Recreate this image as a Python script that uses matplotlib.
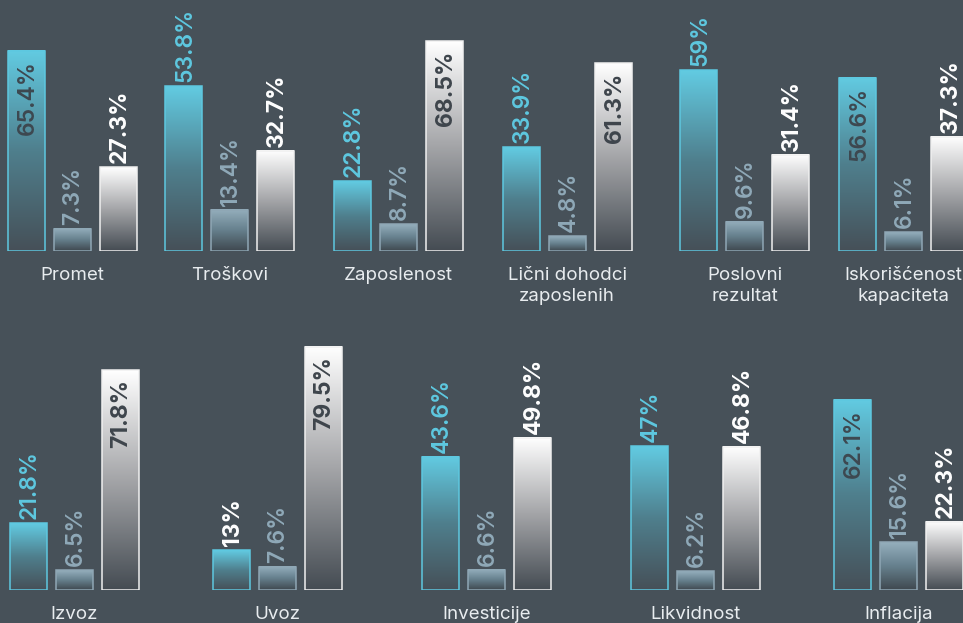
import numpy as np
import matplotlib.pyplot as plt
from matplotlib.colors import LinearSegmentedColormap

plt.rcParams['font.family'] = ['Inter', 'DejaVu Sans']

# --- podaci ---
top_categories = ['Promet', 'Troškovi', 'Zaposlenost', 'Lični dohodci\nzaposlenih',
                  'Poslovni\nrezultat', 'Iskorišćenost\nkapaciteta']
top_cyan = [65.4, 53.8, 22.8, 33.9, 59, 56.6]
top_gray = [7.3, 13.4, 8.7, 4.8, 9.6, 6.1]
top_white = [27.3, 32.7, 68.5, 61.3, 31.4, 37.3]

bottom_categories = ['Izvoz', 'Uvoz', 'Investicije', 'Likvidnost', 'Inflacija']
bottom_cyan = [21.8, 13, 43.6, 47, 62.1]
bottom_gray = [6.5, 7.6, 6.6, 6.2, 15.6]
bottom_white = [71.8, 79.5, 49.8, 46.8, 22.3]

# --- izgled ---
W, H = 963, 623
BG = '#475159'
BAR_W = 37
STEP = 46
YMAX = 82
# centri grupa u pikselima (original nije ravnomerno rasporedjen)
top_centers = [72, 229.5, 398.5, 567, 744.5, 903.5]
bottom_centers = [74, 277, 486.5, 695.5, 898.5]

styles = [
    dict(colors=['#465058', '#4f7f8d', '#62cbe2'], edge='#5ec8e0', label='#5ec8e0',
         inside='#3d4850', weight='semibold'),
    dict(colors=['#3f484f', '#66808d', '#95afbd'], edge='#8fa7b5', label='#8fa9b8',
         inside='#3d4850', weight='semibold'),
    dict(colors=['#454c53', '#a4a5a8', '#ffffff'], edge='#f0f0f0', label='#ffffff',
         inside='#3e454c', weight='bold'),
]
white_labels = {('Uvoz', 0)}   # u originalu je ova oznaka bela

fig = plt.figure(figsize=(W / 100, H / 100), dpi=100, facecolor=BG)
renderer = fig.canvas.get_renderer()
grad = np.linspace(1, 0, 256)[:, None]


def draw_row(base_px, categories, series, centers):
    ax = fig.add_axes([0, (H - base_px) / H, 1, YMAX * 3.06 / H])
    ax.set_xlim(0, W)
    ax.set_ylim(0, YMAX)
    ax.axis('off')
    ax.patch.set_alpha(0)
    ax_top = ax.get_window_extent(renderer).y1

    for i, (cat, c) in enumerate(zip(categories, centers)):
        for j, vals in enumerate(series):
            v = vals[i]
            st = styles[j]
            xc = c + (j - 1) * STEP
            cmap = LinearSegmentedColormap.from_list('g', st['colors'])
            ax.imshow(grad, cmap=cmap, aspect='auto', interpolation='bilinear',
                      extent=(xc - BAR_W / 2, xc + BAR_W / 2, 0, v), zorder=1)
            ax.bar(xc, v, width=BAR_W, facecolor='none', edgecolor=st['edge'],
                   linewidth=1.1, zorder=2)

            color = st['label']
            weight = st['weight']
            if (cat, j) in white_labels:
                color, weight = '#ffffff', 'bold'
            t = ax.annotate(f'{v:g}%', xy=(xc, v), xytext=(1.5, 4),
                            textcoords='offset pixels', rotation=90,
                            ha='center', va='bottom', fontsize=16.5,
                            color=color, fontweight=weight, zorder=3)
            if t.get_window_extent(renderer).y1 > ax_top - 2:
                # ne staje iznad stubca -> upisi unutra
                t.set_va('top')
                t.xyann = (1.5, -9)
                t.set_color(st['inside'])

        ax.annotate(cat, xy=(c, 0), xytext=(0, -16), textcoords='offset pixels',
                    ha='center', va='top', fontsize=13.5, linespacing=1.3,
                    color='#e8ecef')
    return ax


draw_row(251, top_categories, [top_cyan, top_gray, top_white], top_centers)
draw_row(590, bottom_categories, [bottom_cyan, bottom_gray, bottom_white], bottom_centers)

fig.savefig('out.png', dpi=100, facecolor=BG)
